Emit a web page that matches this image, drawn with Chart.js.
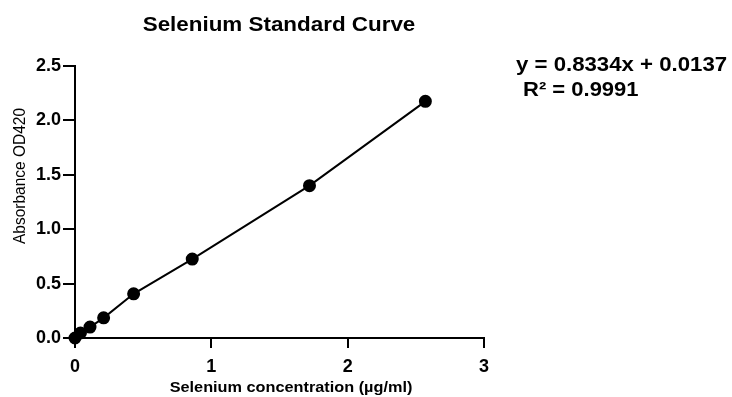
<!DOCTYPE html>
<html>
<head>
<meta charset="utf-8">
<script src="https://cdn.jsdelivr.net/npm/chart.js@4/dist/chart.umd.min.js"></script>
<style>
  html, body { margin: 0; padding: 0; background: #fff; }
  #wrap { width: 732px; height: 397px; position: relative; }
</style>
</head>
<body>
<div id="wrap"><canvas id="c" width="732" height="397"></canvas></div>
<script>
const concentrations = [0, 0.04, 0.11, 0.21, 0.43, 0.86, 1.72, 2.57];
const absorbances = [0.0, 0.046, 0.10, 0.185, 0.406, 0.725, 1.40, 2.175];
const xTicks = [0, 1, 2, 3];
const yTicks = [0.0, 0.5, 1.0, 1.5, 2.0, 2.5];
const chartTitle = 'Selenium Standard Curve';
const xTitle = 'Selenium concentration (µg/ml)';
const yTitle = 'Absorbance OD420';
const equationLines = ['y = 0.8334x + 0.0137', 'R² = 0.9991'];

const FONT = '"Liberation Sans", Arial, Helvetica, sans-serif';

function stretchedText(ctx, text, x, y, sx, sy, rot) {
  ctx.save();
  ctx.translate(x, y);
  if (rot) ctx.rotate(rot);
  ctx.scale(sx, sy);
  ctx.fillText(text, 0, 0);
  ctx.restore();
}

const textPlugin = {
  id: 'texts',
  afterDraw(chart) {
    const ctx = chart.ctx;
    ctx.save();
    ctx.fillStyle = '#000';
    ctx.textBaseline = 'alphabetic';
    ctx.textAlign = 'center';
    ctx.font = 'bold 20px ' + FONT;
    stretchedText(ctx, chartTitle, 279, 31, 1.12, 1);
    ctx.font = 'bold 15px ' + FONT;
    stretchedText(ctx, xTitle, 291, 392, 1.085, 1);
    ctx.textAlign = 'left';
    ctx.font = 'bold 20px ' + FONT;
    stretchedText(ctx, equationLines[0], 516, 71, 1.11, 1);
    stretchedText(ctx, equationLines[1], 523, 96, 1.1, 1);
    ctx.textAlign = 'center';
    ctx.textBaseline = 'middle';
    ctx.font = 'normal 15.5px ' + FONT;
    stretchedText(ctx, yTitle, 20, 176, 1, 1.1, -Math.PI / 2);
    ctx.restore();
  }
};

const data = concentrations.map((x, i) => ({ x: x, y: absorbances[i] }));

new Chart(document.getElementById('c'), {
  type: 'scatter',
  data: {
    datasets: [{
      data: data,
      showLine: true,
      borderColor: '#000',
      backgroundColor: '#000',
      borderWidth: 2,
      pointRadius: 5.5,
      pointHoverRadius: 5.5,
      clip: false
    }]
  },
  options: {
    responsive: false,
    animation: false,
    events: [],
    layout: { padding: { left: 0, top: 66, right: 248, bottom: 0 } },
    plugins: { legend: { display: false }, tooltip: { enabled: false }, title: { display: false } },
    scales: {
      x: {
        type: 'linear',
        min: 0, max: 3,
        afterFit(scale) { scale.height = 59; },
        afterBuildTicks(scale) { scale.ticks = xTicks.map(v => ({ value: v })); },
        grid: { display: true, drawOnChartArea: false, drawTicks: true, tickLength: 10, color: '#000', lineWidth: 2 },
        border: { display: true, color: '#000', width: 2 },
        ticks: {
          color: '#000',
          font: { family: FONT, size: 18, weight: 'bold' },
          padding: 8,
          callback: v => String(v)
        }
      },
      y: {
        type: 'linear',
        min: 0, max: 2.5,
        afterFit(scale) { scale.width = 75; },
        afterBuildTicks(scale) { scale.ticks = yTicks.map(v => ({ value: v })); },
        grid: { display: true, drawOnChartArea: false, drawTicks: true, tickLength: 12, color: '#000', lineWidth: 2 },
        border: { display: true, color: '#000', width: 2 },
        ticks: {
          color: '#000',
          font: { family: FONT, size: 18, weight: 'bold' },
          padding: 2,
          callback: v => Number(v).toFixed(1)
        }
      }
    }
  },
  plugins: [textPlugin]
});
</script>
</body>
</html>
